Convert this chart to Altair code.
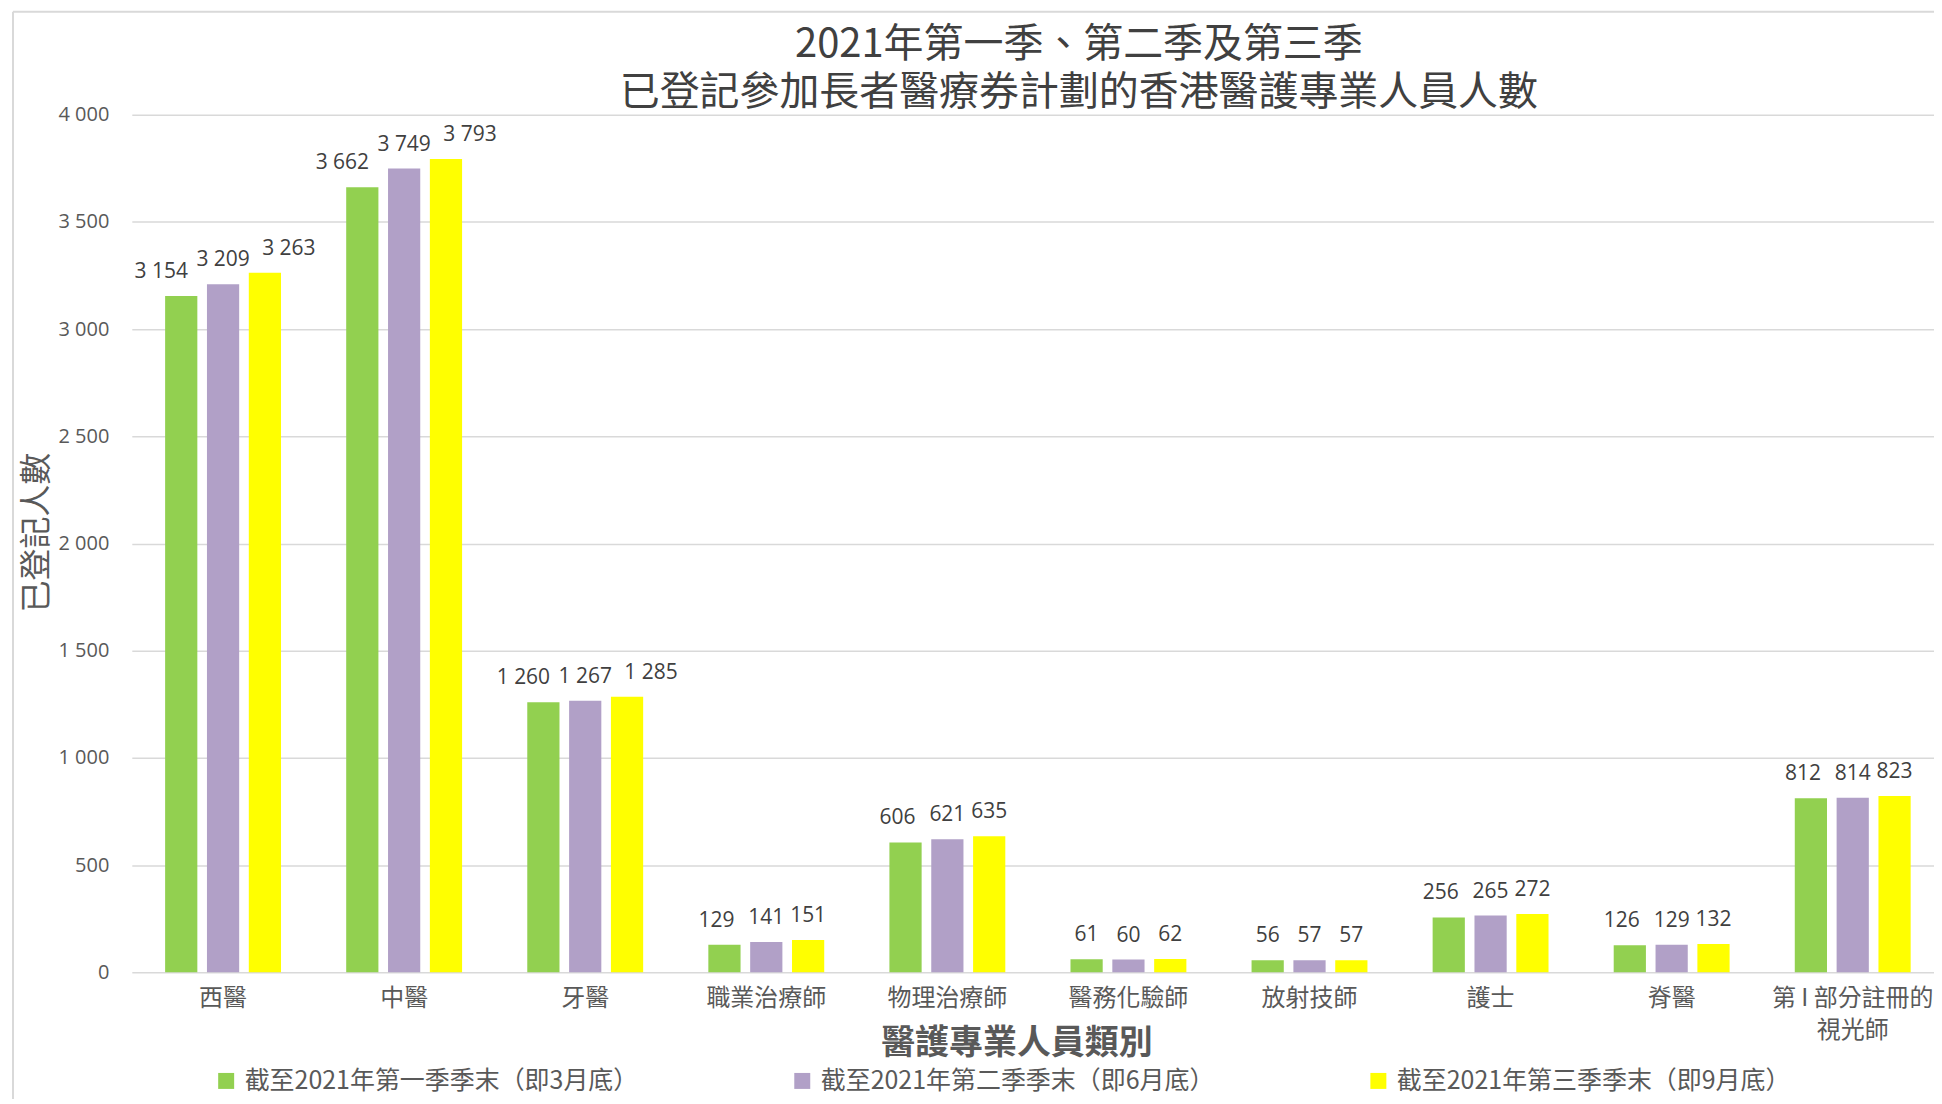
import altair as alt
import pandas as pd

categories = ["西醫", "中醫", "牙醫", "職業治療師", "物理治療師", "醫務化驗師",
              "放射技師", "護士", "脊醫", "第 I 部分註冊的視光師"]
series = ["截至2021年第一季季末（即3月底）",
          "截至2021年第二季季末（即6月底）",
          "截至2021年第三季季末（即9月底）"]
q1 = [3154, 3662, 1260, 129, 606, 61, 56, 256, 126, 812]
q2 = [3209, 3749, 1267, 141, 621, 60, 57, 265, 129, 814]
q3 = [3263, 3793, 1285, 151, 635, 62, 57, 272, 132, 823]
colors = ["#92D050", "#B1A0C7", "#FFFF00"]
y_ticks = [0, 500, 1000, 1500, 2000, 2500, 3000, 3500, 4000]

rows = []
for s_idx, vals in enumerate([q1, q2, q3]):
    for c, v in zip(categories, vals):
        rows.append({"category": c, "series": series[s_idx], "sidx": s_idx,
                     "value": v, "label": f"{v:,}".replace(",", " ")})
df = pd.DataFrame(rows)

CJK = "Noto Sans CJK TC"
NUM = "Open Sans"

x_enc = alt.X("category:N", sort=categories,
              scale=alt.Scale(paddingInner=0.36, paddingOuter=0.184, range=[0, 1815]),
              axis=alt.Axis(title="醫護專業人員類別", labelAngle=0,
                            labelExpr="datum.value == '第 I 部分註冊的視光師' ? ['第 I 部分註冊的', '視光師'] : datum.value",
                            labelFont=CJK, labelFontSize=24, labelColor="#595959",
                            labelPadding=14, labelLineHeight=32, labelLimit=300,
                            titleFont=CJK, titleFontSize=34, titleFontWeight="bold",
                            titleColor="#595959", titleX=886, titleY=71,
                            titleAlign="center", titleBaseline="middle",
                            grid=False, domain=False, ticks=False))
xo_enc = alt.XOffset("series:N", sort=series,
                     scale=alt.Scale(paddingInner=0.23, paddingOuter=0))
y_enc = alt.Y("value:Q", scale=alt.Scale(domain=[0, 4000], nice=False),
              axis=alt.Axis(values=y_ticks, title="已登記人數",
                            labelExpr="replace(format(datum.value, ','), ',', ' ')",
                            labelFont=NUM, labelFontSize=20, labelColor="#595959",
                            labelPadding=23, grid=True, gridColor="#D9D9D9",
                            gridWidth=1.5, domain=False, ticks=False,
                            titleFont=CJK, titleFontSize=32, titleFontWeight="normal",
                            titleColor="#595959", titleAngle=-90, titleX=-95, titleY=418,
                            titleAlign="center", titleBaseline="middle"))

bars = alt.Chart(df).mark_bar().encode(
    x=x_enc, xOffset=xo_enc, y=y_enc,
    color=alt.Color("series:N", sort=series,
                    scale=alt.Scale(domain=series, range=colors),
                    legend=alt.Legend(title=None, orient="none", legendX=82, legendY=955,
                                      direction="horizontal", columns=3,
                                      columnPadding=151, symbolType="square",
                                      symbolSize=256, symbolStrokeWidth=0,
                                      labelFont=CJK, labelFontSize=25,
                                      labelColor="#595959", labelLimit=600,
                                      labelOffset=6, padding=0))
)

def text_layer(cond, dx):
    return alt.Chart(df).transform_filter(cond).mark_text(
        baseline="alphabetic", align="center", dy=-18, dx=dx,
        font=NUM, fontSize=21, color="#404040"
    ).encode(x=x_enc, xOffset=xo_enc, y=y_enc, text="label:N")

t_green_big = text_layer("datum.sidx == 0 && datum.value >= 1000", -20)
t_green_mid = text_layer("datum.sidx == 0 && datum.value >= 100 && datum.value < 1000", -8)
t_yellow_big = text_layer("datum.sidx == 2 && datum.value >= 1000", 24)
t_rest = text_layer("!((datum.sidx == 0 && datum.value >= 100) || (datum.sidx == 2 && datum.value >= 1000))", 0)

frame_df = pd.DataFrame({"k": [0]})
frame_left = alt.Chart(frame_df).mark_rule(color="#D9D9D9", strokeWidth=2).encode(
    x=alt.value(-119), y=alt.value(-103), y2=alt.value(990))
frame_top = alt.Chart(frame_df).mark_rule(color="#D9D9D9", strokeWidth=2).encode(
    x=alt.value(-119), x2=alt.value(1810), y=alt.value(-103))

chart = alt.layer(frame_left, frame_top, bars, t_green_big, t_green_mid,
                  t_yellow_big, t_rest).properties(
    width=1805, height=859,
    title=alt.Title(["2021年第一季、第二季及第三季",
                     "已登記參加長者醫療券計劃的香港醫護專業人員人數"],
                    font=CJK, fontSize=40, fontWeight="normal", color="#404040",
                    lineHeight=48, anchor="middle", dx=46, dy=102, offset=0),
    autosize=alt.AutoSizeParams(type="none"),
    padding={"left": 124, "top": 106, "right": 0, "bottom": 126}
).configure_view(stroke=None)

chart.save("out.html", embed_options={"renderer": "svg", "actions": False})
